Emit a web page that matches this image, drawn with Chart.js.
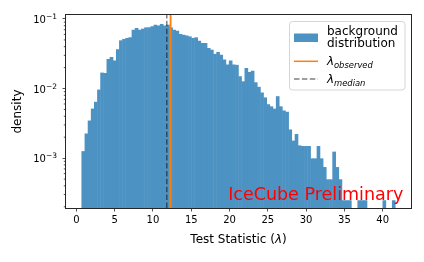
<!DOCTYPE html>
<html>
<head>
<meta charset="utf-8">
<script src="https://cdn.jsdelivr.net/npm/chart.js@4/dist/chart.umd.min.js"></script>
<style>
  html, body { margin: 0; padding: 0; background: #fff; }
</style>
</head>
<body>
<canvas id="ts" width="424" height="262"></canvas>
<script>
// background TS distribution, 100 equal bins between binLow and binHigh
var binLow = 0.69, binHigh = 41.65;
var density = [
  0.00125, 0.00224, 0.00344, 0.00511, 0.00640, 0.00958, 0.0168, 0.0166, 0.0264, 0.0282,
  0.0250, 0.0363, 0.0489, 0.0512, 0.0528, 0.0543, 0.0695, 0.0735, 0.0695, 0.0719,
  0.0750, 0.0752, 0.0780, 0.0820, 0.0800, 0.0839, 0.0800, 0.0820, 0.0750, 0.0695,
  0.0673, 0.0604, 0.0590, 0.0576, 0.0557, 0.0528, 0.0540, 0.0484, 0.0448, 0.0446,
  0.0380, 0.0359, 0.0312, 0.0333, 0.0304, 0.0260, 0.0219, 0.0250, 0.0219, 0.0217,
  0.0149, 0.0126, 0.0196, 0.0172, 0.0178, 0.0122, 0.0105, 0.0087, 0.0074, 0.0059,
  0.0055, 0.0051, 0.0077, 0.0055, 0.0048, 0.0046, 0.00256, 0.00177, 0.0022, 0.00151,
  0.00148, 0.00148, 0.00148, 0.000984, 0.000984, 0.00148, 0.000984, 0.000738, 0.000492, 0.000492,
  0.00123, 0.000738, 0.000492, 0.000246, 0.000246, 0.000246, null, null, 0.000246, 0.000246,
  0.000246, null, null, null, null, null, 0.000246, null, null, 0.000246
];
var lambdaMedian = 11.8;
var lambdaObserved = 12.3;

var xMin = -1.36, xMax = 43.7;
var yMin = 1.92e-4, yMax = 0.114;
var xTicks = [0, 5, 10, 15, 20, 25, 30, 35, 40];
var yMajor = [1e-3, 1e-2, 1e-1];
var yMajorExp = ['\u22123', '\u22122', '\u22121'];

var blue = 'rgb(76,146,195)';
var orange = '#ff7f0e';
var dashCol = 'rgba(0,0,0,0.5)';
var FONT = '"DejaVu Sans", sans-serif';

var binW = (binHigh - binLow) / density.length;
var bins = density.map(function (d, i) {
  return { x: binLow + binW * (i + 0.5), y: d };
});

function isDecade(v) {
  var l = Math.log10(v);
  return Math.abs(l - Math.round(l)) < 1e-6;
}

var extras = {
  id: 'extras',
  afterDatasetsDraw: function (chart) {
    var c = chart.ctx, a = chart.chartArea, ys = chart.scales.y;
    c.save();

    // watermark
    c.fillStyle = 'red';
    c.font = '17.5px ' + FONT;
    c.textAlign = 'left';
    c.textBaseline = 'alphabetic';
    c.fillText('IceCube Preliminary', a.left + 0.47 * (a.right - a.left), 200);

    // frame
    c.strokeStyle = '#262626';
    c.lineWidth = 1;
    c.strokeRect(a.left - 0.5, a.top - 0.5, a.right - a.left + 1, a.bottom - a.top + 1);

    // minor y ticks
    c.beginPath();
    ys.ticks.forEach(function (t) {
      if (isDecade(t.value)) return;
      var py = ys.getPixelForValue(t.value);
      c.moveTo(a.left - 2.2, py);
      c.lineTo(a.left, py);
    });
    c.lineWidth = 0.8;
    c.stroke();

    // y tick labels, 10^n
    c.fillStyle = '#000';
    yMajor.forEach(function (v, k) {
      var py = ys.getPixelForValue(v);
      c.font = '7.5px ' + FONT;
      var ws = c.measureText(yMajorExp[k]).width;
      c.font = '10px ' + FONT;
      var wb = c.measureText('10').width;
      var right = a.left - 9;
      c.fillText('10', right - ws - wb, py + 4);
      c.font = '7.5px ' + FONT;
      c.fillText(yMajorExp[k], right - ws, py + 0.3);
    });

    // x axis title with italic lambda
    var p1 = 'Test Statistic (', p2 = '\u03bb', p3 = ')';
    c.font = '12px ' + FONT;
    var w1 = c.measureText(p1).width, w3 = c.measureText(p3).width;
    c.font = 'italic 12px ' + FONT;
    var w2 = c.measureText(p2).width;
    var tx = (a.left + a.right) / 2 - (w1 + w2 + w3) / 2, ty = 243;
    c.font = '12px ' + FONT;
    c.fillText(p1, tx, ty);
    c.font = 'italic 12px ' + FONT;
    c.fillText(p2, tx + w1, ty);
    c.font = '12px ' + FONT;
    c.fillText(p3, tx + w1 + w2, ty);

    // legend
    var lx = 289.5, ly = 21.5, lw = 115.5, lh = 68.5, r = 3;
    c.beginPath();
    c.moveTo(lx + r, ly);
    c.arcTo(lx + lw, ly, lx + lw, ly + lh, r);
    c.arcTo(lx + lw, ly + lh, lx, ly + lh, r);
    c.arcTo(lx, ly + lh, lx, ly, r);
    c.arcTo(lx, ly, lx + lw, ly, r);
    c.closePath();
    c.fillStyle = 'rgba(255,255,255,0.8)';
    c.fill();
    c.strokeStyle = 'rgba(204,204,204,0.8)';
    c.lineWidth = 1;
    c.stroke();

    c.fillStyle = blue;
    c.fillRect(294, 33.5, 24, 8.5);
    c.fillStyle = '#000';
    c.font = '12px ' + FONT;
    c.fillText('background', 327, 34.5);
    c.fillText('distribution', 327, 47);

    c.strokeStyle = orange;
    c.lineWidth = 1.5;
    c.beginPath(); c.moveTo(294, 61.3); c.lineTo(318, 61.3); c.stroke();
    c.font = 'italic 12px ' + FONT;
    c.fillText('\u03bb', 327, 65);
    c.font = 'italic 8.4px ' + FONT;
    c.fillText('observed', 334, 67.5);

    c.strokeStyle = dashCol;
    c.setLineDash([5.5, 2.4]);
    c.beginPath(); c.moveTo(294, 79); c.lineTo(318, 79); c.stroke();
    c.setLineDash([]);
    c.font = 'italic 12px ' + FONT;
    c.fillText('\u03bb', 327, 83.3);
    c.font = 'italic 8.4px ' + FONT;
    c.fillText('median', 334, 85.8);

    c.restore();
  }
};

new Chart(document.getElementById('ts'), {
  type: 'bar',
  data: {
    datasets: [
      {
        type: 'line',
        data: [{ x: lambdaObserved, y: yMin }, { x: lambdaObserved, y: yMax }],
        borderColor: orange, borderWidth: 1.8, pointRadius: 0, fill: false, order: 0
      },
      {
        type: 'line',
        data: [{ x: lambdaMedian, y: yMin }, { x: lambdaMedian, y: yMax }],
        borderColor: dashCol, borderWidth: 1.5, borderDash: [5.5, 2.4],
        pointRadius: 0, fill: false, order: 1
      },
      {
        data: bins, backgroundColor: blue, borderWidth: 0, inflateAmount: 0.25,
        barPercentage: 1, categoryPercentage: 1, order: 2
      }
    ]
  },
  options: {
    responsive: false,
    animation: false,
    devicePixelRatio: 1,
    layout: { padding: { left: 0, top: 15, right: 13, bottom: 0 } },
    plugins: { legend: { display: false }, tooltip: { enabled: false } },
    scales: {
      x: {
        type: 'linear', min: xMin, max: xMax, offset: false,
        afterFit: function (s) { s.height = 54; },
        afterBuildTicks: function (s) {
          s.ticks = xTicks.map(function (v) { return { value: v }; });
        },
        grid: { drawOnChartArea: false, offset: false, tickLength: 3.5, tickColor: '#262626', tickWidth: 0.8 },
        border: { display: false },
        ticks: {
          padding: 3, color: '#000', autoSkip: false, maxRotation: 0,
          font: { family: FONT, size: 10 },
          callback: function (v) { return String(v); }
        }
      },
      y: {
        type: 'logarithmic', min: yMin, max: yMax,
        afterFit: function (s) { s.width = 66; },
        afterBuildTicks: function (s) {
          var t = [];
          for (var e = -4; e <= -1; e++) {
            for (var d = 1; d <= 9; d++) {
              var v = d * Math.pow(10, e);
              if (v >= yMin && v <= yMax) t.push({ value: v, major: d === 1 });
            }
          }
          s.ticks = t;
        },
        grid: {
          drawOnChartArea: false, tickLength: 3.5, tickWidth: 0.8,
          tickColor: function (ctx) {
            return ctx.tick && isDecade(ctx.tick.value) ? '#262626' : 'rgba(0,0,0,0)';
          }
        },
        border: { display: false },
        ticks: { autoSkip: false, callback: function () { return ''; } },
        title: {
          display: true, text: 'density', color: '#000',
          font: { family: FONT, size: 12 }, padding: { top: 11, bottom: 0 }
        }
      }
    }
  },
  plugins: [extras]
});
</script>
</body>
</html>
